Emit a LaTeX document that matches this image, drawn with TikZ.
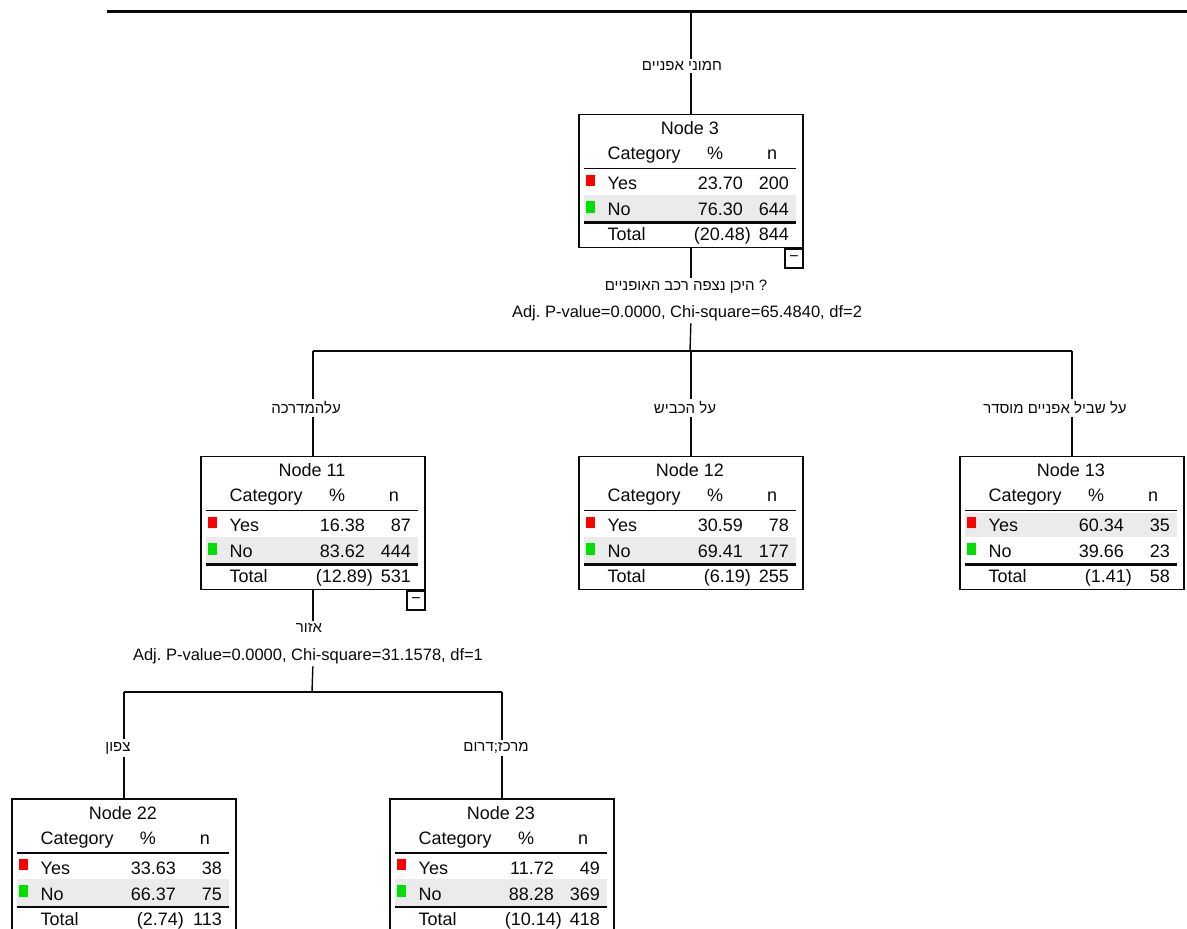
\documentclass[tikz,border=0pt]{standalone}
\usepackage{fontspec}
\setmainfont{Liberation Sans}
\newfontfamily\hebfont[Script=Hebrew]{Liberation Sans}
\TeXXeTstate=1
\frenchspacing
\usetikzlibrary{calc}
\definecolor{rowgray}{HTML}{EBEBEB}
\definecolor{catred}{HTML}{FF0000}
\definecolor{catgreen}{HTML}{00E000}
\definecolor{inkc}{HTML}{0A0A0A}
\tikzset{
 cbox/.style={draw=inkc, line width=1.7pt, minimum width=224pt, minimum height=133pt, inner sep=0pt, anchor=north west},
 conn/.style={draw=inkc, line width=1.4pt},
 tx/.style={text=inkc, font=\fontsize{18}{20}\selectfont, inner sep=0pt, anchor=base},
 txw/.style={tx, anchor=base west},
 txe/.style={tx, anchor=base east},
 hlab/.style={text=inkc, font=\hebfont\fontsize{15}{17}\selectfont, inner sep=2.5pt},
 plab/.style={text=inkc, font=\fontsize{16.5}{18}\selectfont, inner sep=2.5pt},
 hrule/.style={draw=inkc, line width=1.5pt},
 dblrule/.style={draw=inkc, line width=2.6pt},
 colbox/.style={draw=inkc, line width=1.4pt, minimum width=18pt, minimum height=19pt, inner sep=0pt, anchor=north east, text=inkc, font=\fontsize{16}{16}\selectfont},
}
% #1 name, #2 x0, #3 y0, #4 number, #5 gray band top, #6 gray band bottom
\newcommand\ctbox[6]{%
 \begin{scope}[shift={(#2,#3)}]
 \fill[rowgray] (6,#5) rectangle (218,#6);
 \node[cbox] (#1) at (0,0) {};
 \node[tx] (#1-t) at (112,21) {Node #4};
 \node[txw] (#1-c) at (29.5,46) {Category};
 \node[tx] (#1-p) at (137,46) {\%};
 \node[tx] (#1-n) at (194,46) {n};
 \draw[hrule] (6,55) -- (218,55);
 \fill[catred] (8,61) rectangle (17,72);
 \fill[catgreen] (8,87) rectangle (17,99);
 \draw[dblrule] (6,109) -- (218,109);
 \node[txw] (#1-y) at (29.5,76) {Yes};
 \node[txw] (#1-o) at (29.5,102) {No};
 \node[txw] (#1-s) at (29.5,127) {Total};
 \end{scope}}
% #1 name, #2 x0, #3 y0, #4 yes%, #5 yes n, #6 no%, #7 no n, #8 total%, #9 total n
\newcommand\ctvals[9]{%
 \begin{scope}[shift={(#2,#3)}]
 \node[txe] (#1-yp) at (165,76) {#4};
 \node[txe] (#1-yn) at (211,76) {#5};
 \node[txe] (#1-op) at (165,102) {#6};
 \node[txe] (#1-on) at (211,102) {#7};
 \node[txe] (#1-sp) at (173,127) {#8};
 \node[txe] (#1-sn) at (211,127) {#9};
 \end{scope}}
\begin{document}
\begin{tikzpicture}[x=1pt,y=-1pt]
\useasboundingbox (0,0) rectangle (1187,929);
\clip (0,0) rectangle (1187,929);
\fill[white] (0,0) rectangle (1187,929);

% boxes
\ctbox{n3}{578}{113.5}{3}{81}{108}
\ctvals{n3}{578}{113.5}{23.70}{200}{76.30}{644}{(20.48)}{844}
\ctbox{n11}{200}{455.5}{11}{81}{108}
\ctvals{n11}{200}{455.5}{16.38}{87}{83.62}{444}{(12.89)}{531}
\ctbox{n12}{578}{455.5}{12}{81}{108}
\ctvals{n12}{578}{455.5}{30.59}{78}{69.41}{177}{(6.19)}{255}
\ctbox{n13}{959}{455.5}{13}{57}{81}
\ctvals{n13}{959}{455.5}{60.34}{35}{39.66}{23}{(1.41)}{58}
\ctbox{n22}{11}{798}{22}{81}{108}
\ctvals{n22}{11}{798}{33.63}{38}{66.37}{75}{(2.74)}{113}
\ctbox{n23}{389}{798}{23}{81}{108}
\ctvals{n23}{389}{798}{11.72}{49}{88.28}{369}{(10.14)}{418}

% collapse boxes
\node[colbox] (c3) at (n3.south east) {−};
\node[colbox] (c11) at (n11.south east) {−};

% top line
\coordinate (tl) at (107,11.5);
\coordinate (tr) at (1187,11.5);
\draw[draw=inkc, line width=2.6pt] (tl) -- (tr);
\coordinate (t0) at (n3.north |- tl);
\node[hlab] (l3) at (682,66) {\beginR חמוני אפניים\endR};
\draw[conn] (t0) -- (t0 |- l3.north);
\draw[conn] (t0 |- l3.south) -- (n3.north);

% split of node 3
\node[hlab] (q3) at (686,287) {\beginR ? היכן נצפה רכב האופניים\endR};
\node[plab] (p3) at (687,313) {Adj. P-value=0.0000, Chi-square=65.4840, df=2};
\coordinate (h3) at (690,351);
\draw[conn] (n3.south) -- (n3.south |- q3.north);
\draw[conn] (n3.south |- p3.south) -- (h3);
\draw[conn] (n11.north |- h3) -- (n13.north |- h3);
\node[hlab] (l11) at (306,408) {\beginR עלהמדרכה\endR};
\node[hlab] (l12) at (685,408) {\beginR על הכביש\endR};
\node[hlab] (l13) at (1055,408) {\beginR על שביל אפניים מוסדר\endR};
\draw[conn] (n11.north |- h3) -- (n11.north |- l11.north);
\draw[conn] (n11.north |- l11.south) -- (n11.north);
\draw[conn] (n12.north |- h3) -- (n12.north |- l12.north);
\draw[conn] (n12.north |- l12.south) -- (n12.north);
\draw[conn] (n13.north |- h3) -- (n13.north |- l13.north);
\draw[conn] (n13.north |- l13.south) -- (n13.north);

% split of node 11
\node[hlab] (q11) at (309,628) {\beginR אזור\endR};
\node[plab] (p11) at (308,656) {Adj. P-value=0.0000, Chi-square=31.1578, df=1};
\coordinate (h11) at (312,692);
\draw[conn] (n11.south) -- (n11.south |- q11.north);
\draw[conn] (n11.south |- p11.south) -- (h11);
\draw[conn] (n22.north |- h11) -- (n23.north |- h11);
\node[hlab] (l22) at (118,748) {\beginR צפון\endR};
\node[hlab] (l23) at (496,748) {\beginR מרכז;דרום\endR};
\draw[conn] (n22.north |- h11) -- (n22.north |- l22.north);
\draw[conn] (n22.north |- l22.south) -- (n22.north);
\draw[conn] (n23.north |- h11) -- (n23.north |- l23.north);
\draw[conn] (n23.north |- l23.south) -- (n23.north);
\end{tikzpicture}
\end{document}
